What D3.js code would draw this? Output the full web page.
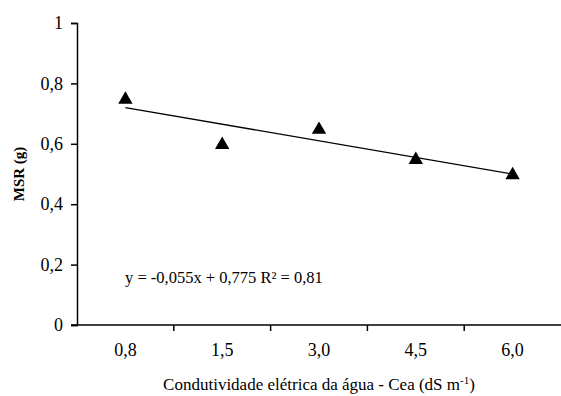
<!doctype html>
<html>
<head>
<meta charset="UTF-8">
<title>MSR x Cea</title>
<script src="https://cdn.jsdelivr.net/npm/d3@7"></script>
<style>
body { margin: 0; background: #fff; }
</style>
</head>
<body>
<div id="chart"></div>
<script>
// data
var categories = ["0,8", "1,5", "3,0", "4,5", "6,0"];
var msr = [0.75, 0.60, 0.65, 0.55, 0.50];
var yTicks = [0, 0.2, 0.4, 0.6, 0.8, 1];
var slope = -0.055, intercept = 0.775; // fitted on x = 1..5
var equation = "y = -0,055x + 0,775 R\u00b2 = 0,81";

var serif = "'Liberation Serif', 'Times New Roman', 'DejaVu Serif', serif";
var w = 561, h = 396;
var margin = {top: 23, right: 0, bottom: 71, left: 77};

var svg = d3.select("#chart").append("svg")
  .attr("width", w)
  .attr("height", h)
  .attr("font-family", serif);

var xScale = d3.scaleBand()
  .domain(categories)
  .range([margin.left, w - margin.right]);

var yScale = d3.scaleLinear()
  .domain([0, 1])
  .range([h - margin.bottom, margin.top]);

var fmt = function(d) { return d === 0 || d === 1 ? String(d) : d3.format(".1f")(d).replace(".", ","); };

// y axis
var gy = svg.append("g")
  .attr("transform", "translate(" + margin.left + ",0)")
  .call(d3.axisLeft(yScale).tickValues(yTicks).tickFormat(fmt).tickSize(6).tickPadding(8))
  .attr("font-family", serif);
gy.select(".domain").attr("stroke-width", 1.5);
gy.selectAll(".tick line").attr("stroke-width", 1.5);
gy.selectAll(".tick text").attr("font-size", "18px");

// x axis: ticks sit on band boundaries
var gx = svg.append("g")
  .attr("transform", "translate(0," + (h - margin.bottom) + ")");
gx.append("line")
  .attr("x1", margin.left - 6).attr("x2", w - margin.right)
  .attr("stroke", "#000").attr("stroke-width", 1.5);
gx.selectAll(".xt")
  .data(categories.slice(1))
  .enter().append("line")
  .attr("x1", function(d) { return xScale(d); })
  .attr("x2", function(d) { return xScale(d); })
  .attr("y1", 0).attr("y2", 6)
  .attr("stroke", "#000").attr("stroke-width", 1.5);
gx.selectAll(".xl")
  .data(categories)
  .enter().append("text")
  .attr("x", function(d) { return xScale(d) + xScale.bandwidth() / 2; })
  .attr("y", 31)
  .attr("text-anchor", "middle")
  .attr("font-size", "18px")
  .text(function(d) { return d; });

// trend line
var idx = d3.range(1, categories.length + 1);
svg.append("line")
  .attr("x1", xScale(categories[0]) + xScale.bandwidth() / 2)
  .attr("y1", yScale(slope * idx[0] + intercept))
  .attr("x2", xScale(categories[categories.length - 1]) + xScale.bandwidth() / 2)
  .attr("y2", yScale(slope * idx[idx.length - 1] + intercept))
  .attr("stroke", "#000")
  .attr("stroke-width", 1.3);

// points
var tri = d3.symbol().type(d3.symbolTriangle).size(90);
svg.selectAll(".pt")
  .data(msr)
  .enter().append("path")
  .attr("d", tri)
  .attr("transform", function(d, i) {
    return "translate(" + (xScale(categories[i]) + xScale.bandwidth() / 2) + "," + (yScale(d) + 1) + ")";
  })
  .attr("fill", "#000");

// equation
svg.append("text")
  .attr("x", 125)
  .attr("y", 283)
  .attr("font-size", "16.5px")
  .text(equation);

// axis titles
var xt = svg.append("text")
  .attr("x", (margin.left + w - margin.right) / 2)
  .attr("y", 390)
  .attr("text-anchor", "middle")
  .attr("font-size", "17px");
xt.append("tspan").text("Condutividade elétrica da água - Cea (dS m");
xt.append("tspan").attr("dy", -6).attr("font-size", "11px").text("-1");
xt.append("tspan").attr("dy", 6).text(")");

svg.append("text")
  .attr("transform", "translate(24," + ((margin.top + h - margin.bottom) / 2) + ") rotate(-90)")
  .attr("text-anchor", "middle")
  .attr("font-size", "15px")
  .attr("font-weight", "bold")
  .text("MSR (g)");
</script>
</body>
</html>
